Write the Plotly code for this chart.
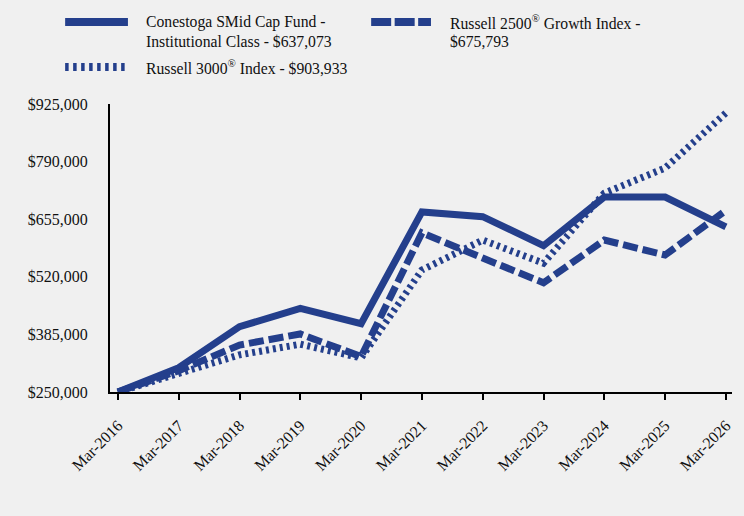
import plotly.graph_objects as go

dates = ["Mar-2016", "Mar-2017", "Mar-2018", "Mar-2019", "Mar-2020", "Mar-2021",
         "Mar-2022", "Mar-2023", "Mar-2024", "Mar-2025", "Mar-2026"]
fund = [250000, 307000, 403000, 446000, 410000, 672000, 661000, 593000, 707000, 707000, 637073]
r2500g = [250000, 300000, 360000, 386000, 333000, 623000, 564000, 506000, 606000, 571000, 675793]
r3000 = [250000, 294000, 337000, 362000, 330000, 536000, 606000, 552000, 716000, 775000, 903933]
yticks = [250000, 385000, 520000, 655000, 790000, 925000]

names = ["Conestoga SMid Cap Fund -<br>Institutional Class - $637,073",
         "Russell 2500<sup>®</sup> Growth Index -<br>$675,793",
         "Russell 3000<sup>®</sup> Index - $903,933"]

COLOR = "#243F8C"
BG = "#F0F0F0"
FONT = "Liberation Serif"

x = list(range(len(dates)))

fig = go.Figure()
fig.add_trace(go.Scatter(x=x, y=fund, mode="lines", name=names[0],
                         line=dict(color=COLOR, width=7), showlegend=False))
fig.add_trace(go.Scatter(x=x, y=r2500g, mode="lines", name=names[1],
                         line=dict(color=COLOR, width=7, dash="15px,5px"), showlegend=False))
fig.add_trace(go.Scatter(x=x, y=r3000, mode="lines", name=names[2],
                         line=dict(color=COLOR, width=7, dash="3px,4px"), showlegend=False))

L, R, T, B = 110, 734, 104, 392


def px(xp):
    return (xp - L) / (R - L)


def py(yp):
    return (B - yp) / (B - T)


shapes = []
annotations = []
legend_items = [
    (65, 128, 22, "solid", [("Conestoga SMid Cap Fund -", 22), ("Institutional Class - $637,073", 41)], 144),
    (372, 432, 22, "20px,3.5px", [("Russell 2500<sup>®</sup> Growth Index -", 22), ("$675,793", 41)], 449),
    (65, 128, 67, "3.5px,4.5px", [("Russell 3000<sup>®</sup> Index - $903,933", 67)], 144),
]
for x0, x1, yy, dash, lines, tx in legend_items:
    shapes.append(dict(type="line", xref="paper", yref="paper",
                       x0=px(x0), x1=px(x1), y0=py(yy), y1=py(yy),
                       line=dict(color=COLOR, width=8, dash=dash)))
    for txt, ty in lines:
        annotations.append(dict(xref="paper", yref="paper", x=px(tx), y=py(ty),
                                xanchor="left", yanchor="middle", text=txt,
                                showarrow=False, font=dict(family=FONT, size=15.7, color="#111111")))

fig.update_layout(
    width=744, height=516,
    margin=dict(l=L, r=744 - R, t=T, b=516 - B),
    paper_bgcolor=BG, plot_bgcolor=BG,
    font=dict(family=FONT, size=16, color="#111111"),
    shapes=shapes, annotations=annotations,
    showlegend=False,
)
fig.update_xaxes(range=[-0.13, 10.1], tickvals=x, ticktext=dates, tickangle=-45,
                 showgrid=False, zeroline=False, showline=True, linecolor="black", linewidth=2,
                 ticks="outside", ticklen=6, tickwidth=2, tickcolor="black",
                 ticklabelstandoff=10,
                 tickfont=dict(family=FONT, size=16, color="#111111"))
fig.update_yaxes(range=[250000, 925000], tickvals=yticks,
                 ticktext=[f"${v:,}" for v in yticks],
                 showgrid=False, zeroline=False, showline=True, linecolor="black", linewidth=2,
                 ticks="", ticklabelstandoff=17,
                 tickfont=dict(family=FONT, size=16, color="#111111"))

fig.write_html("out.html")
